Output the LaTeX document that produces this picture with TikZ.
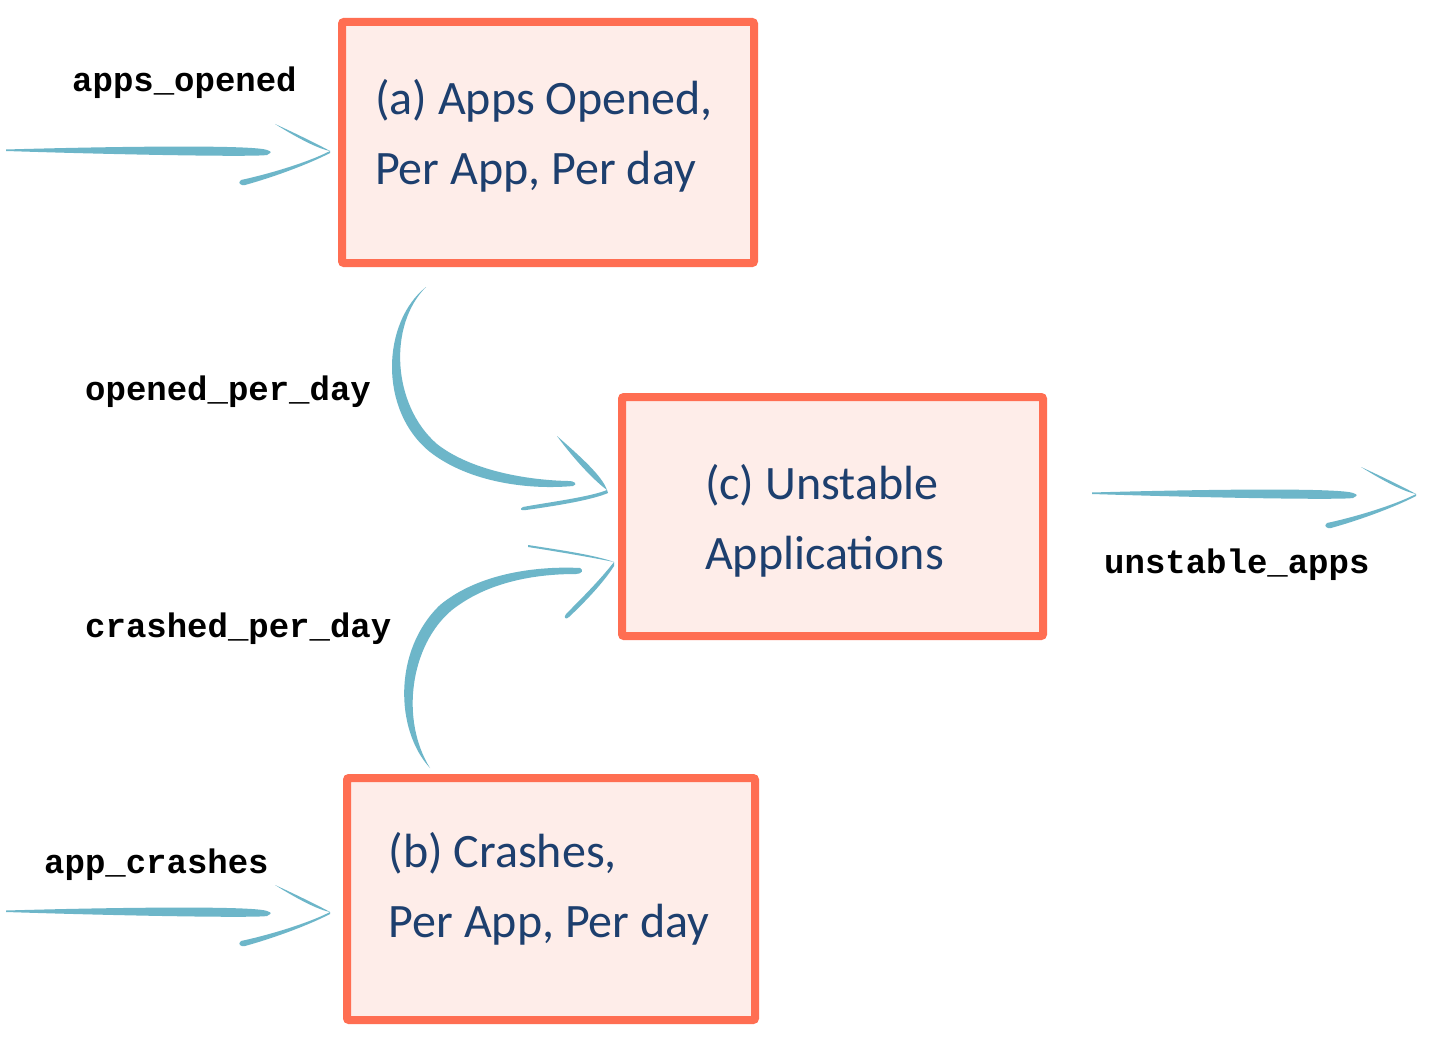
\documentclass[tikz,border=0pt]{standalone}
\usepackage{fontspec}
\usetikzlibrary{calc}
\newfontfamily\handfont{Carlito}
\newfontfamily\labfont{Liberation Mono}
\definecolor{boxline}{HTML}{FF6E52}
\definecolor{boxfill}{HTML}{FEEDE9}
\definecolor{arrowcol}{HTML}{6DB6C9}
\definecolor{textnavy}{HTML}{1D3F6E}
\tikzset{
  procbox/.style={draw=boxline, fill=boxfill, line width=8pt, rounded corners=2pt,
    inner sep=0pt},
  boxtext/.style={text=textnavy, align=left, inner sep=0pt,
    font=\handfont\fontsize{48}{70}\selectfont},
  flowlabel/.style={anchor=base west, inner sep=0pt, text=black,
    font=\labfont\bfseries\fontsize{34}{40}\selectfont},
  pics/sarrow/.style={code={
    \fill[arrowcol] (-323,-2.5) .. controls (-200,-6) and (-75,-7) .. (-62,-2)
      .. controls (-57,0) .. (-62,3)
      .. controls (-75,5) and (-200,3) .. (-323,-1) -- cycle;
    \fill[arrowcol] (-54,-28) .. controls (-30,-17) and (-8,-6) .. (1,-1)
      .. controls (-10,-3) and (-30,-13) .. (-54,-28) -- cycle;
    \fill[arrowcol] (1,-1) .. controls (-20,10) and (-60,22) .. (-88,28)
      .. controls (-92,31) and (-88,34) .. (-84,33)
      .. controls (-55,25) and (-20,12) .. (1,1) -- cycle;
  }}
}
\begin{document}
\begin{tikzpicture}[x=1pt,y=-1pt]
\useasboundingbox (0,0) rectangle (1440,1046);
\fill[white] (0,0) rectangle (1440,1046);

% boxes
\node[procbox, minimum width=412pt, minimum height=241pt] (a) at (548,142.5) {};
\node[procbox, minimum width=421pt, minimum height=239pt] (c) at (832.5,516.5) {};
\node[procbox, minimum width=408pt, minimum height=242pt] (b) at (551,899) {};
\node[boxtext] (at) at ($(a.center)+(-4,-7)$) {(a) Apps Opened,\\Per App, Per day};
\node[boxtext] (ct) at ($(c.center)+(-8,4)$) {(c) Unstable\\Applications};
\node[boxtext] (bt) at ($(b.center)+(-2,-10)$) {(b) Crashes,\\Per App, Per day};

% straight arrows
\coordinate (ta) at ($(a.west)+(-9,9.5)$);
\coordinate (tb) at ($(b.west)+(-14,14)$);
\coordinate (tout) at (1415,495);
\pic at (ta) {sarrow};
\pic at (tb) {sarrow};
\pic at (tout) {sarrow};

% curved arrow a -> c
\coordinate (sa) at (426,287);
\coordinate (hc1) at (607,490);
\fill[arrowcol] (sa) .. controls (382,322) and (378,410) .. (430,452)
  .. controls (470,483) and (530,490) .. (573,486)
  .. controls (578,484) and (575,481) .. (568,481)
  .. controls (525,480) and (470,470) .. (437,444)
  .. controls (392,405) and (388,325) .. (sa) -- cycle;
\fill[arrowcol] (557,436) .. controls (582,458) and (602,476) .. (hc1)
  .. controls (596,482) and (576,462) .. (557,436) -- cycle;
\fill[arrowcol] (hc1) .. controls (590,497) and (550,502) .. (523,507)
  .. controls (519,509) and (521,511) .. (526,510)
  .. controls (555,506) and (592,500) .. (608,493) -- cycle;

% curved arrow b -> c
\coordinate (sb) at (430,768);
\coordinate (hc2) at (614,562);
\fill[arrowcol] (sb) .. controls (395,730) and (393,650) .. (440,605)
  .. controls (480,572) and (540,566) .. (580,568)
  .. controls (584,570) and (582,574) .. (576,574)
  .. controls (540,574) and (490,580) .. (452,610)
  .. controls (410,645) and (400,720) .. (sb) -- cycle;
\fill[arrowcol] (528,545) .. controls (560,550) and (595,555) .. (hc2)
  .. controls (595,558) and (560,552) .. (528,547) -- cycle;
\fill[arrowcol] (hc2) .. controls (600,580) and (580,600) .. (566,614)
  .. controls (563,618) and (566,620) .. (569,617)
  .. controls (585,602) and (604,582) .. (614,566) -- cycle;

% labels
\node[flowlabel] (la) at (72,92) {apps\_opened};
\node[flowlabel] (lo) at (85,400) {opened\_per\_day};
\node[flowlabel] (lcr) at (85,637) {crashed\_per\_day};
\node[flowlabel] (lb) at (44,873) {app\_crashes};
\node[flowlabel] (lu) at (1104,573) {unstable\_apps};
\end{tikzpicture}
\end{document}
